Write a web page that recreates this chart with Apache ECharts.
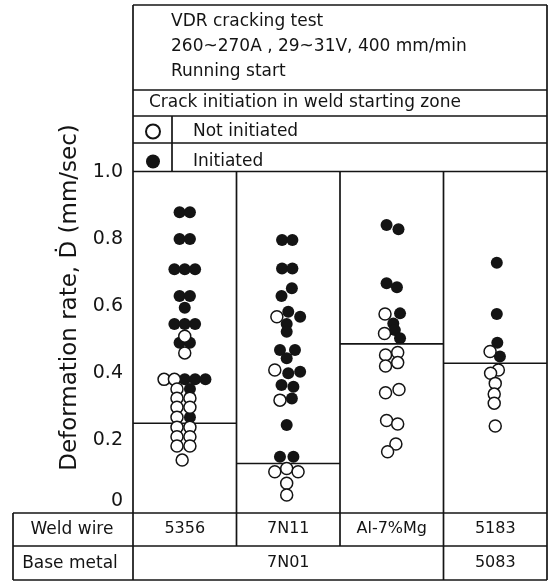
<!DOCTYPE html>
<html>
<head>
<meta charset="utf-8">
<script src="https://cdn.jsdelivr.net/npm/echarts@6/dist/echarts.min.js"></script>
<style>
html,body{margin:0;padding:0;background:#fff;}
#main{width:549px;height:582px;}
</style>
</head>
<body>
<div id="main"></div>
<script>
// ---- data ----
const weldWires = ['5356', '7N11', 'Al-7%Mg', '5183'];
const baseMetals = ['7N01', '5083'];
const baseMetalSpans = [3, 1];          // number of weld-wire columns each base metal covers
const yTicks = [0, 0.2, 0.4, 0.6, 0.8, 1.0];
const thresholds = [0.25, 0.13, 0.487, 0.429];   // boundary line per weld wire

// points: [lane (horizontal jitter slot inside the column), deformation rate]
const initiated5356 = [[-1,0.88],[1,0.88],[-1,0.80],[1,0.80],[-2,0.71],[0,0.71],[2,0.71],[-1,0.63],[1,0.63],[0,0.595],[-2,0.546],[0,0.546],[2,0.546],[-1,0.49],[1,0.49],[0,0.381],[2,0.381],[4,0.381],[1,0.352],[1,0.268]];
const notInitiated5356 = [[0,0.51],[0,0.46],[-4,0.381],[-2,0.381],[-1.5,0.352],[-1.5,0.325],[1,0.325],[-1.5,0.298],[1,0.298],[-1.5,0.268],[-1.5,0.238],[1,0.238],[-1.5,0.21],[1,0.21],[-1.5,0.182],[1,0.182],[-0.5,0.14]];
const initiated7N11 = [[-1.2,0.797],[0.8,0.797],[-1.2,0.712],[0.8,0.712],[0.7,0.653],[-1.3,0.630],[0,0.583],[2.3,0.568],[-0.3,0.546],[-0.3,0.523],[-1.6,0.469],[1.3,0.469],[-0.3,0.444],[2.3,0.404],[0,0.399],[-1.3,0.364],[1,0.359],[0.7,0.324],[-0.3,0.245],[-1.6,0.150],[1,0.150]];
const notInitiated7N11 = [[-2.2,0.568],[-2.6,0.409],[-1.6,0.319],[-2.6,0.105],[-0.3,0.115],[1.9,0.105],[-0.3,0.071],[-0.3,0.036]];
const initiatedAlMg = [[-1,0.842],[1.3,0.829],[-1,0.668],[1,0.656],[1.6,0.578],[0.3,0.548],[0.6,0.528],[1.6,0.504]];
const notInitiatedAlMg = [[-1.3,0.576],[-1.4,0.518],[1.15,0.461],[-1.2,0.454],[1.15,0.431],[-1.2,0.421],[1.4,0.351],[-1.2,0.341],[-1,0.258],[1.15,0.248],[0.8,0.188],[-0.8,0.165]];
const initiated5183 = [[0.3,0.729],[0.3,0.576],[0.4,0.49],[0.9,0.449]];
const notInitiated5183 = [[-1,0.464],[0.6,0.409],[-0.9,0.399],[0,0.369],[-0.2,0.337],[-0.2,0.31],[0,0.242]];

const initiatedByWire = [initiated5356, initiated7N11, initiatedAlMg, initiated5183];
const notInitiatedByWire = [notInitiated5356, notInitiated7N11, notInitiatedAlMg, notInitiated5183];

// ---- build ----
const LANE = 0.05;
function place(groups) {
  const out = [];
  groups.forEach((g, col) => g.forEach(p => out.push([col + 0.5 + p[0] * LANE, p[1]])));
  return out;
}
const INK = '#141414';
const FONT = 'DejaVu Sans';

// base metal label centres on the column scale
const baseCentres = [];
let acc = 0;
baseMetalSpans.forEach(s => { baseCentres.push(acc + s / 2); acc += s; });

// table frame (layout only)
const L = 133, R = 547, TOP = 5, PT = 171.5, TB1 = 513, TB2 = 546, TB3 = 580, TL = 13;
const colX = [0,1,2,3,4].map(i => L + (R - L) * i / 4);
const segs = [
  [L, TOP, R, TOP], [L, 90, R, 90], [L, 116, R, 116], [L, 143, R, 143], [L, PT, R, PT],
  [L, TOP, L, TB3], [R, TOP, R, TB3], [172, 116, 172, PT],
  [colX[1], PT, colX[1], TB2], [colX[2], PT, colX[2], TB2], [colX[3], PT, colX[3], TB3],
  [TL, TB1, R, TB1], [TL, TB2, R, TB2], [TL, TB3, R, TB3], [TL, TB1, TL, TB3]
];
const graphic = segs.map(s => ({
  type: 'line', silent: true,
  shape: { x1: s[0], y1: s[1], x2: s[2], y2: s[3] },
  style: { stroke: INK, lineWidth: 1.7 }
}));
graphic.push({ type: 'text', x: 72, y: 530, style: { text: 'Weld wire', fill: INK, font: '17px ' + FONT, textAlign: 'center', textVerticalAlign: 'middle' } });
graphic.push({ type: 'text', x: 70, y: 564, style: { text: 'Base metal', fill: INK, font: '17px ' + FONT, textAlign: 'center', textVerticalAlign: 'middle' } });

const thresholdSeries = thresholds.map((t, i) => ({
  type: 'line', silent: true, symbol: 'none', xAxisIndex: 0,
  data: [[i, t], [i + 1, t]],
  lineStyle: { color: INK, width: 1.6 }, z: 1
}));

const chart = echarts.init(document.getElementById('main'), null, { renderer: 'canvas' });
chart.setOption({
  animation: false,
  backgroundColor: '#fff',
  textStyle: { fontFamily: FONT, color: INK },
  title: [
    { text: 'VDR cracking test\n260~270A , 29~31V, 400 mm/min\nRunning start', left: 171, top: 9, padding: 0,
      textStyle: { fontSize: 17, fontWeight: 'normal', color: INK, lineHeight: 25, fontFamily: FONT } },
    { text: 'Crack initiation in weld starting zone', left: 149, top: 93, padding: 0,
      textStyle: { fontSize: 17, fontWeight: 'normal', color: INK, lineHeight: 20, fontFamily: FONT } }
  ],
  legend: {
    data: ['Not initiated', 'Initiated'], orient: 'vertical', left: 145, top: 123, padding: 0,
    icon: 'circle', itemWidth: 14, itemHeight: 14, itemGap: 13,
    formatter: name => '{gap|}{n|' + name + '}',
    textStyle: { fontSize: 17, color: INK, fontFamily: FONT,
      rich: { gap: { width: 28 }, n: { fontSize: 17, color: INK, fontFamily: FONT } } },
    selectedMode: false
  },
  grid: { left: 133, right: 2, top: 172, bottom: 75, containLabel: false },
  xAxis: [
    { type: 'value', min: 0, max: 4, show: false },
    { type: 'category', data: weldWires, position: 'bottom', boundaryGap: true,
      axisLine: { show: false }, axisTick: { show: false },
      axisLabel: { margin: 14, fontSize: 16, color: INK, fontFamily: FONT } },
    { type: 'value', min: 0, max: 4, position: 'bottom',
      axisLine: { show: false }, axisTick: { show: false }, splitLine: { show: false },
      axisLabel: { customValues: baseCentres, margin: 48, fontSize: 16, color: INK, fontFamily: FONT,
        formatter: v => { const k = baseCentres.indexOf(v); return k >= 0 ? baseMetals[k] : ''; } } }
  ],
  yAxis: {
    type: 'value', min: yTicks[0], max: yTicks[yTicks.length - 1], interval: 0.2,
    axisLine: { show: false }, axisTick: { show: false }, splitLine: { show: false },
    axisLabel: { margin: 10, fontSize: 19, color: INK, fontFamily: FONT,
      formatter: v => (v === 0 ? '{z|0}' : v.toFixed(1)),
      rich: { z: { fontSize: 19, color: INK, fontFamily: FONT, padding: [0, 0, 12, 0] } } },
    name: 'Deformation rate, Ḋ (mm/sec)', nameLocation: 'middle', nameRotate: 90, nameGap: 51,
    nameTextStyle: { fontSize: 23, color: INK, fontFamily: FONT, padding: [0, 0, 0, 84] }
  },
  series: thresholdSeries.concat([
    { name: 'Initiated', type: 'scatter', xAxisIndex: 0, symbol: 'circle', symbolSize: 12,
      itemStyle: { color: INK, opacity: 1 }, data: place(initiatedByWire), z: 3 },
    { name: 'Not initiated', type: 'scatter', xAxisIndex: 0, symbol: 'circle', symbolSize: 12,
      itemStyle: { color: '#fff', borderColor: INK, borderWidth: 1.5, opacity: 1 }, data: place(notInitiatedByWire), z: 4 }
  ]),
  graphic: graphic
});
</script>
</body>
</html>
